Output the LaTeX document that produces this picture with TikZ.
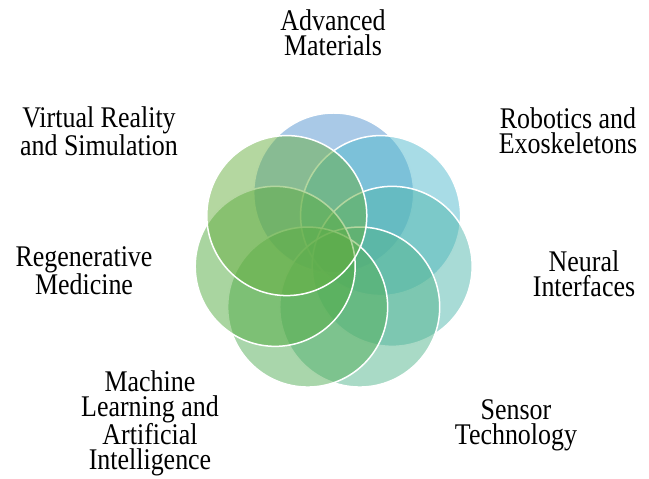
\documentclass[tikz,border=0pt]{standalone}
\usepackage{fontspec}
\setmainfont{Liberation Serif}[FakeStretch=0.865]
\usetikzlibrary{calc}
\definecolor{cAdv}{RGB}{83,147,207}
\definecolor{cRob}{RGB}{81,185,205}
\definecolor{cNeu}{RGB}{81,183,173}
\definecolor{cSen}{RGB}{83,181,141}
\definecolor{cMac}{RGB}{83,173,87}
\definecolor{cReg}{RGB}{83,171,65}
\definecolor{cVR}{RGB}{105,175,65}
\tikzset{
  venn/.style={circle, minimum size=160pt, inner sep=0pt, fill opacity=0.5, draw=white, draw opacity=1, line width=1.5pt},
  lbl/.style={align=center, inner sep=0pt, anchor=base, font=\fontsize{30}{25}\selectfont}
}
\begin{document}
\begin{tikzpicture}[x=1pt,y=1pt]
\useasboundingbox (0,0) rectangle (649,479);
\coordinate (ctr) at (333.7,226);
\node[venn, fill=cAdv] (c1) at ($(ctr)+(90:60)$) {};
\node[venn, fill=cRob] (c2) at ($(ctr)+(38.57:60)$) {};
\node[venn, fill=cNeu] (c3) at ($(ctr)+(-12.86:60)$) {};
\node[venn, fill=cSen] (c4) at ($(ctr)+(-64.29:60)$) {};
\node[venn, fill=cMac] (c5) at ($(ctr)+(-115.71:60)$) {};
\node[venn, fill=cReg] (c6) at ($(ctr)+(-167.14:60)$) {};
\node[venn, fill=cVR] (c7) at ($(ctr)+(141.43:60)$) {};
\node[lbl] (l1) at (333,423.3) {Advanced\\Materials};
\node[lbl] (l2) at (568,325) {Robotics and\\Exoskeletons};
\node[lbl] (l3) at (584,182) {Neural\\Interfaces};
\node[lbl] (l4) at (516,34) {Sensor\\Technology};
\node[lbl] (l5) at (150,9) {Machine\\Learning and\\Artificial\\Intelligence};
\node[lbl] (l6) at (84,184) {Regenerative\\Medicine};
\node[lbl] (l7) at (99,323) {Virtual Reality\\and Simulation};
\end{tikzpicture}
\end{document}
